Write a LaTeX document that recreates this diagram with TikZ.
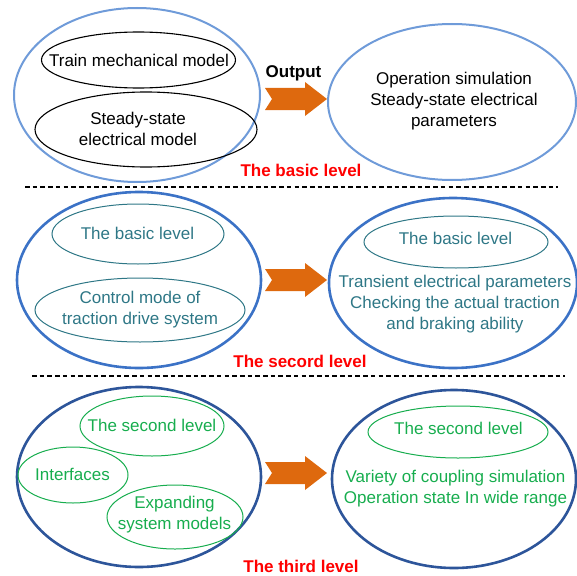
\documentclass[tikz,border=0pt]{standalone}
\usepackage{fontspec}
\setmainfont{Liberation Sans}
\usetikzlibrary{shapes.geometric}
\definecolor{lblue}{HTML}{6F9BD9}
\definecolor{mblue}{HTML}{3B72C6}
\definecolor{dblue}{HTML}{2D559A}
\definecolor{tealc}{HTML}{2E7786}
\definecolor{greenc}{HTML}{17AD4E}
\definecolor{orng}{HTML}{DE690E}
\begin{document}
\begin{tikzpicture}[x=1pt,y=-1pt,
  ell/.style args={#1/#2}{ellipse, minimum width=#1, minimum height=#2, inner sep=0pt, outer sep=0pt},
  outerA/.style={draw=lblue, line width=2pt},
  outerB/.style={draw=mblue, line width=2.6pt},
  outerC/.style={draw=dblue, line width=2.6pt},
  innerA/.style={draw=black, line width=1.1pt},
  innerB/.style={draw=tealc, line width=1pt},
  innerC/.style={draw=greenc, line width=1pt},
  txt/.style={font=\fontsize{17}{21}\selectfont, align=center, inner sep=0pt},
  lvl/.style={font=\fontsize{17}{21}\selectfont\bfseries, text=red, inner sep=0pt},
  sepline/.style={black, line width=2.6pt, dash pattern=on 4.6pt off 3.1pt},
  fatarrow/.pic={\fill[orng] (0,-11) -- (40,-11) -- (40,-17) -- (62,0) -- (40,17) -- (40,11) -- (0,11) -- (7,0) -- cycle;}
]
\useasboundingbox (0,0) rectangle (577,575);

% ---------- basic level ----------
\node[ell=246/174, outerA] (L1) at (137,95) {};
\node[ell=194/56, innerA] (L1a) at (138.5,60) {};
\node[ell=222/75, innerA] (L1b) at (146,129.5) {};
\node[txt] (t1a) at (139,60) {Train mechanical model};
\node[txt] (t1b) at (138,129) {Steady-state\\electrical model};
\node[ell=248/156, outerA] (R1) at (452,102) {};
\node[txt] (t1r) at (454,101) {Operation simulation\\Steady-state electrical\\parameters};
\pic at (265,99) {fatarrow};
\node[txt, font=\fontsize{17}{21}\selectfont\bfseries] (out) at (293.5,73) {Output};
\node[lvl] (lv1) at (301,170) {The basic level};
\coordinate (d1a) at (25,187);
\coordinate (d1b) at (558,187);
\draw[sepline] (d1a) -- (d1b);

% ---------- second level ----------
\node[ell=244/176, outerB] (L2) at (139,280) {};
\node[ell=172/60, innerB] (L2a) at (138,234) {};
\node[ell=210/64, innerB] (L2b) at (140,310) {};
\node[txt, text=tealc] (t2a) at (137.5,233.5) {The basic level};
\node[txt, text=tealc] (t2b) at (140,310) {Control mode of\\traction drive system};
\node[ell=248/170, outerB] (R2) at (453,283) {};
\node[ell=184/52, innerB] (R2a) at (456,242) {};
\node[txt, text=tealc] (t2c) at (455.5,238.5) {The basic level};
\node[txt, text=tealc] (t2r) at (455,304) {Transient electrical parameters\\Checking the actual traction\\and braking ability};
\pic at (265,280) {fatarrow};
\node[lvl] (lv2) at (300,361) {The secord level};
\coordinate (d2a) at (32,376);
\coordinate (d2b) at (565,376);
\draw[sepline] (d2a) -- (d2b);

% ---------- third level ----------
\node[ell=244/180, outerC] (L3) at (139,477) {};
\node[ell=144/60, innerC] (L3a) at (152,426) {};
\node[ell=110/56, innerC] (L3b) at (73,475) {};
\node[ell=136/64, innerC] (L3c) at (175,517) {};
\node[txt, text=greenc] (t3a) at (152,425.5) {The second level};
\node[txt, text=greenc] (t3b) at (72.5,474.5) {Interfaces};
\node[txt, text=greenc] (t3c) at (174.5,514.5) {Expanding\\system models};
\node[ell=244/178, outerC] (R3) at (454,479) {};
\node[ell=180/52, innerC] (R3a) at (458,432) {};
\node[txt, text=greenc] (t3d) at (458.5,428.5) {The second level};
\node[txt, text=greenc] (t3r) at (455.5,488.5) {Variety of coupling simulation\\Operation state In wide range};
\pic at (265,473) {fatarrow};
\node[lvl] (lv3) at (301,566) {The third level};
\end{tikzpicture}
\end{document}
